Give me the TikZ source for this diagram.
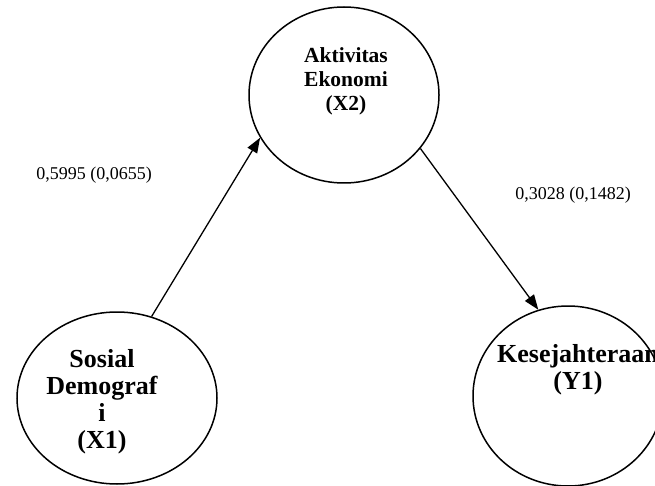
\documentclass[tikz,border=0pt]{standalone}
\usepackage{fontspec}
\setmainfont{Liberation Serif}
\usetikzlibrary{shapes.geometric,arrows.meta}
\begin{document}
\begin{tikzpicture}[x=1pt,y=-1pt,
  var/.style={draw, line width=1.5pt, ellipse, inner sep=0pt},
  lbl/.style={font=\bfseries\fontsize{21.5}{24}\selectfont, align=center, inner sep=0pt},
  lblb/.style={font=\bfseries\fontsize{26}{27}\selectfont, align=center, inner sep=0pt},
  coef/.style={font=\fontsize{18}{20}\selectfont, inner sep=0pt},
  pth/.style={-{Triangle[length=15pt,width=11pt]}, line width=1.3pt}]
\useasboundingbox (0,0) rectangle (655,486);
\clip (0,0) rectangle (655,486);
\node[var, minimum width=190pt, minimum height=176pt] (x2) at (344,95) {};
\node[var, minimum width=200pt, minimum height=172pt] (x1) at (117,398) {};
\node[var, minimum width=190pt, minimum height=180pt] (y1) at (568,396) {};
\node[lbl] (tx2) at (346,81) {Aktivitas\\Ekonomi\\(X2)};
\node[lblb] (tx1) at (102,402) {Sosial\\Demograf\\i\\(X1)};
\node[lblb] (ty1) at (578,370) {Kesejahteraan\\(Y1)};
\node[coef] (c1) at (94,175) {0,5995 (0,0655)};
\node[coef] (c2) at (573,195) {0,3028 (0,1482)};
\draw[pth] (x1.67) -- (x2.207);
\draw[pth] (x2.325) -- (y1.109);
\end{tikzpicture}
\end{document}
